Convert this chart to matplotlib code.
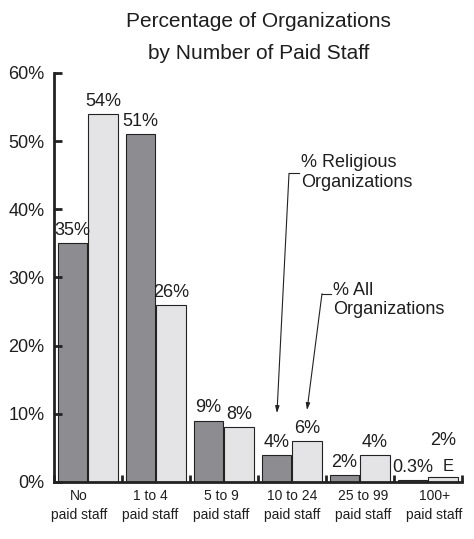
import numpy as np
import matplotlib
matplotlib.use("Agg")
import matplotlib.pyplot as plt

plt.rcParams['font.family'] = ['Liberation Sans', 'DejaVu Sans']

# Data
categories = ["No\npaid staff", "1 to 4\npaid staff", "5 to 9\npaid staff",
              "10 to 24\npaid staff", "25 to 99\npaid staff", "100+\npaid staff"]
religious = [35, 51, 9, 4, 1, 0.3]
all_orgs = [54, 26, 8, 6, 4, 0.8]
religious_labels = ["35%", "51%", "9%", "4%", "2%", "0.3%"]
all_labels = ["54%", "26%", "8%", "6%", "4%", "2%"]

dark = "#8d8d91"
light = "#e4e4e6"
txt = "#1e1e1e"
ink = "#222222"

fig = plt.figure(figsize=(4.74, 5.39), dpi=100)
ax = fig.add_axes([0.1139, 0.1058, 0.8608, 0.7588])

x = np.arange(len(categories))
w = 0.43
b1 = ax.bar(x + 0.27, religious, w, color=dark, edgecolor=ink, linewidth=0.8)
b2 = ax.bar(x + 0.72, all_orgs, w, color=light, edgecolor=ink, linewidth=0.8)

# value labels
for r, lab in zip(b1, religious_labels):
    ax.annotate(lab, (r.get_x() + r.get_width() / 2, r.get_height()),
                xytext=(0, 3), textcoords="offset points",
                ha="center", va="bottom", fontsize=13, color=txt)
for i, (r, lab) in enumerate(zip(b2, all_labels)):
    dy = 20 if i == len(b2) - 1 else 3
    ax.annotate(lab, (r.get_x() + r.get_width() / 2, r.get_height()),
                xytext=(0, dy), textcoords="offset points",
                ha="center", va="bottom", fontsize=13, color=txt)
# "E" flag after 0.3%
r = b1[-1]
ax.annotate("E", (r.get_x() + r.get_width() / 2, r.get_height()),
            xytext=(22, 4.5), textcoords="offset points",
            ha="left", va="bottom", fontsize=12, color=txt)

ax.set_xlim(0, 6)
ax.set_ylim(0, 60)
ax.set_yticks(np.arange(0, 61, 10))
ax.set_yticklabels([f"{v}%" for v in range(0, 61, 10)], fontsize=13, color=txt)
ax.set_xticks(np.arange(0, 7))
ax.set_xticklabels([])
ax.set_xticks(np.arange(6) * 1.045 + 0.37, minor=True)
ax.set_xticklabels(categories, minor=True, fontsize=10, color=txt, linespacing=1.45)
ax.tick_params(axis="x", which="minor", length=0, pad=5)
ax.tick_params(axis="x", which="major", direction="in", length=5, width=2, color=ink)
ax.tick_params(axis="y", direction="in", length=6, width=2, color=ink, pad=7)

for s in ["top", "right"]:
    ax.spines[s].set_visible(False)
for s in ["left", "bottom"]:
    ax.spines[s].set_linewidth(2)
    ax.spines[s].set_color(ink)

# callouts: text, short stub, long arrow
arrow = dict(arrowstyle="-|>,head_length=0.4,head_width=0.12",
             color=ink, lw=0.8, shrinkA=0, shrinkB=0)

ax.text(3.632, 48.1, "% Religious\nOrganizations", fontsize=13, color=txt,
        ha="left", va="top", linespacing=1.2)
ax.plot([3.456, 3.603], [45.27, 45.27], color=ink, lw=0.8)
ax.annotate("", xy=(3.279, 10.1), xytext=(3.456, 45.27), arrowprops=arrow)

ax.text(4.103, 29.4, "% All\nOrganizations", fontsize=13, color=txt,
        ha="left", va="top", linespacing=1.2)
ax.plot([3.941, 4.074], [27.62, 27.62], color=ink, lw=0.8)
ax.annotate("", xy=(3.721, 10.54), xytext=(3.941, 27.62), arrowprops=arrow)

fig.text(0.546, 0.950, "Percentage of Organizations",
         ha="center", va="baseline", fontsize=15, color=txt)
fig.text(0.546, 0.8905, "by Number of Paid Staff",
         ha="center", va="baseline", fontsize=15, color=txt)

fig.savefig("out.png", dpi=100)
